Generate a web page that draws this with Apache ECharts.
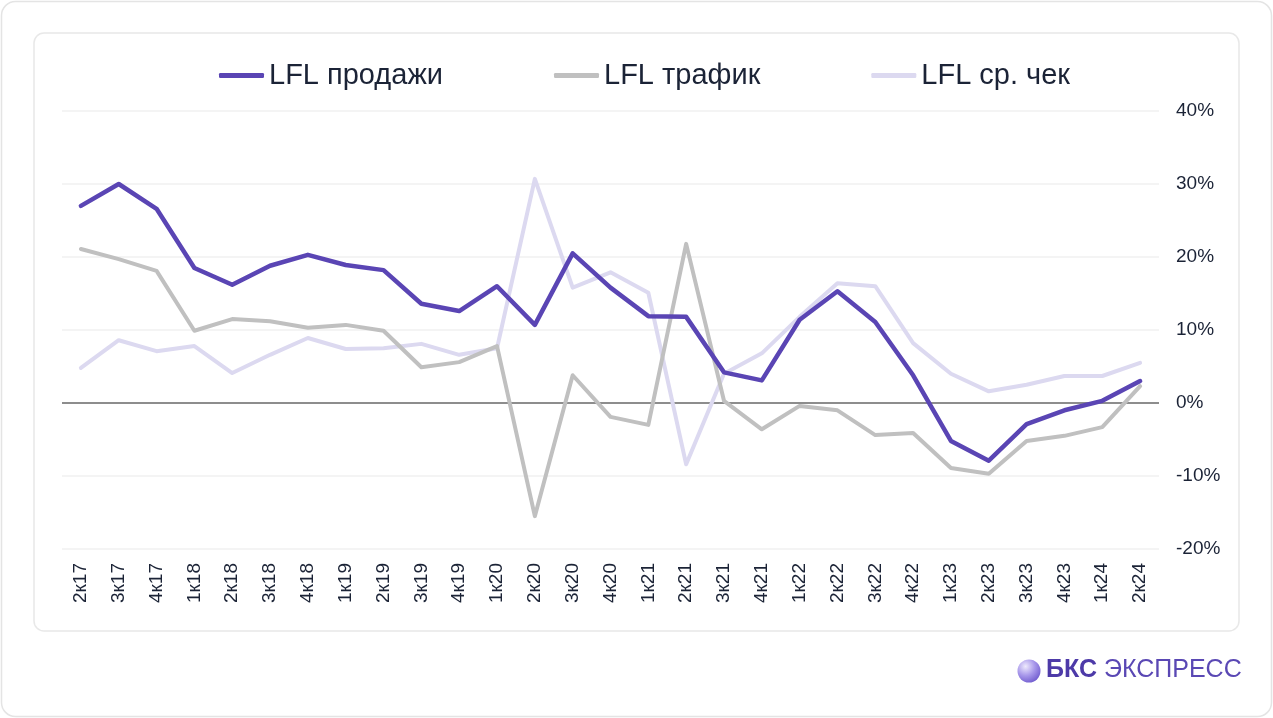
<!DOCTYPE html>
<html>
<head>
<meta charset="utf-8">
<script src="https://cdn.jsdelivr.net/npm/echarts@6/dist/echarts.min.js"></script>
<style>
html,body{margin:0;padding:0;background:#ffffff;}
#c{width:1273px;height:718px;}
</style>
</head>
<body>
<div id="c"></div>
<script>
const categories = ['2к17','3к17','4к17','1к18','2к18','3к18','4к18','1к19','2к19','3к19','4к19','1к20','2к20','3к20','4к20','1к21','2к21','3к21','4к21','1к22','2к22','3к22','4к22','1к23','2к23','3к23','4к23','1к24','2к24'];
const salesLFL = [27.0,30.0,26.6,18.5,16.2,18.8,20.3,18.9,18.2,13.6,12.6,16.0,10.7,20.5,15.8,11.9,11.8,4.2,3.1,11.4,15.3,11.1,3.8,-5.2,-7.9,-2.9,-1.0,0.3,3.0];
const trafficLFL = [21.1,19.7,18.1,9.9,11.5,11.2,10.3,10.7,9.9,4.9,5.6,7.8,-15.5,3.8,-1.9,-3.0,21.8,0.3,-3.6,-0.4,-1.0,-4.4,-4.1,-8.9,-9.7,-5.2,-4.5,-3.3,2.3];
const checkLFL = [4.8,8.6,7.1,7.8,4.1,6.6,8.9,7.4,7.5,8.1,6.6,7.5,30.7,15.8,17.9,15.1,-8.4,4.0,6.8,11.8,16.4,16.0,8.2,4.0,1.6,2.5,3.7,3.7,5.5];
const seriesNames = ['LFL продажи','LFL трафик','LFL ср. чек'];
const yTicks = {min:-20, max:40, interval:10};

const FONT = 'Arial, "Liberation Sans", sans-serif';
const TXT = '#1b2336';

const chart = echarts.init(document.getElementById('c'), null, {renderer:'canvas'});
chart.setOption({
  animation:false,
  backgroundColor:'#ffffff',
  graphic:[
    {type:'rect', z:-10, shape:{x:1.5,y:1.5,width:1270,height:715,r:14}, style:{fill:'#ffffff',stroke:'#e4e4e4',lineWidth:1.5}},
    {type:'rect', z:-9, shape:{x:34,y:33,width:1205,height:598,r:10}, style:{fill:'#ffffff',stroke:'#e8e8e8',lineWidth:1.5}},
    {type:'circle', z:10, shape:{cx:1029,cy:671,r:11.5},
      style:{fill:new echarts.graphic.RadialGradient(0.35,0.3,0.9,[{offset:0,color:'#eeeafd'},{offset:0.45,color:'#a797ea'},{offset:1,color:'#5b45c4'}])}},
    {type:'text', z:10, left:1046, top:658, style:{text:'БКС', font:'bold 25px '+FONT, fill:'#4d3aa8'}},
    {type:'text', z:10, left:1104, top:658, style:{text:'ЭКСПРЕСС', font:'25px '+FONT, fill:'#5a48b4'}}
  ],
  legend:{
    left:214, top:56,
    itemWidth:45, itemHeight:5, itemGap:111,
    icon:'roundRect',
    textStyle:{fontSize:29, color:TXT, fontFamily:FONT},
    data:seriesNames
  },
  grid:{left:62, right:114, top:111, bottom:169},
  xAxis:{
    type:'category',
    data:categories,
    boundaryGap:true,
    axisLine:{show:false},
    axisTick:{show:false},
    axisLabel:{rotate:90, margin:14, fontSize:19, color:TXT, fontFamily:FONT}
  },
  yAxis:{
    type:'value',
    position:'right',
    min:yTicks.min, max:yTicks.max, interval:yTicks.interval,
    axisLine:{show:false},
    axisTick:{show:false},
    axisLabel:{formatter:'{value}%', margin:17, fontSize:19, color:TXT, fontFamily:FONT},
    splitLine:{lineStyle:{color:'#f0f0f0', width:1.5}}
  },
  series:[
    {name:seriesNames[0], type:'line', data:salesLFL, z:5, symbol:'none',
      lineStyle:{color:'#5a45b4', width:4.5, cap:'round', join:'round'}, itemStyle:{color:'#5a45b4'}},
    {name:seriesNames[1], type:'line', data:trafficLFL, z:4, symbol:'none',
      lineStyle:{color:'#c0c0c0', width:4, cap:'round', join:'round'}, itemStyle:{color:'#c0c0c0'}},
    {name:seriesNames[2], type:'line', data:checkLFL, z:3, symbol:'none',
      lineStyle:{color:'#dcd9f0', width:4, cap:'round', join:'round'}, itemStyle:{color:'#dcd9f0'},
      markLine:{silent:true, symbol:'none', label:{show:false}, z:2,
        lineStyle:{color:'#6b6b6b', width:1.5, type:'solid'}, data:[{yAxis:0}]}}
  ]
});
</script>
</body>
</html>
